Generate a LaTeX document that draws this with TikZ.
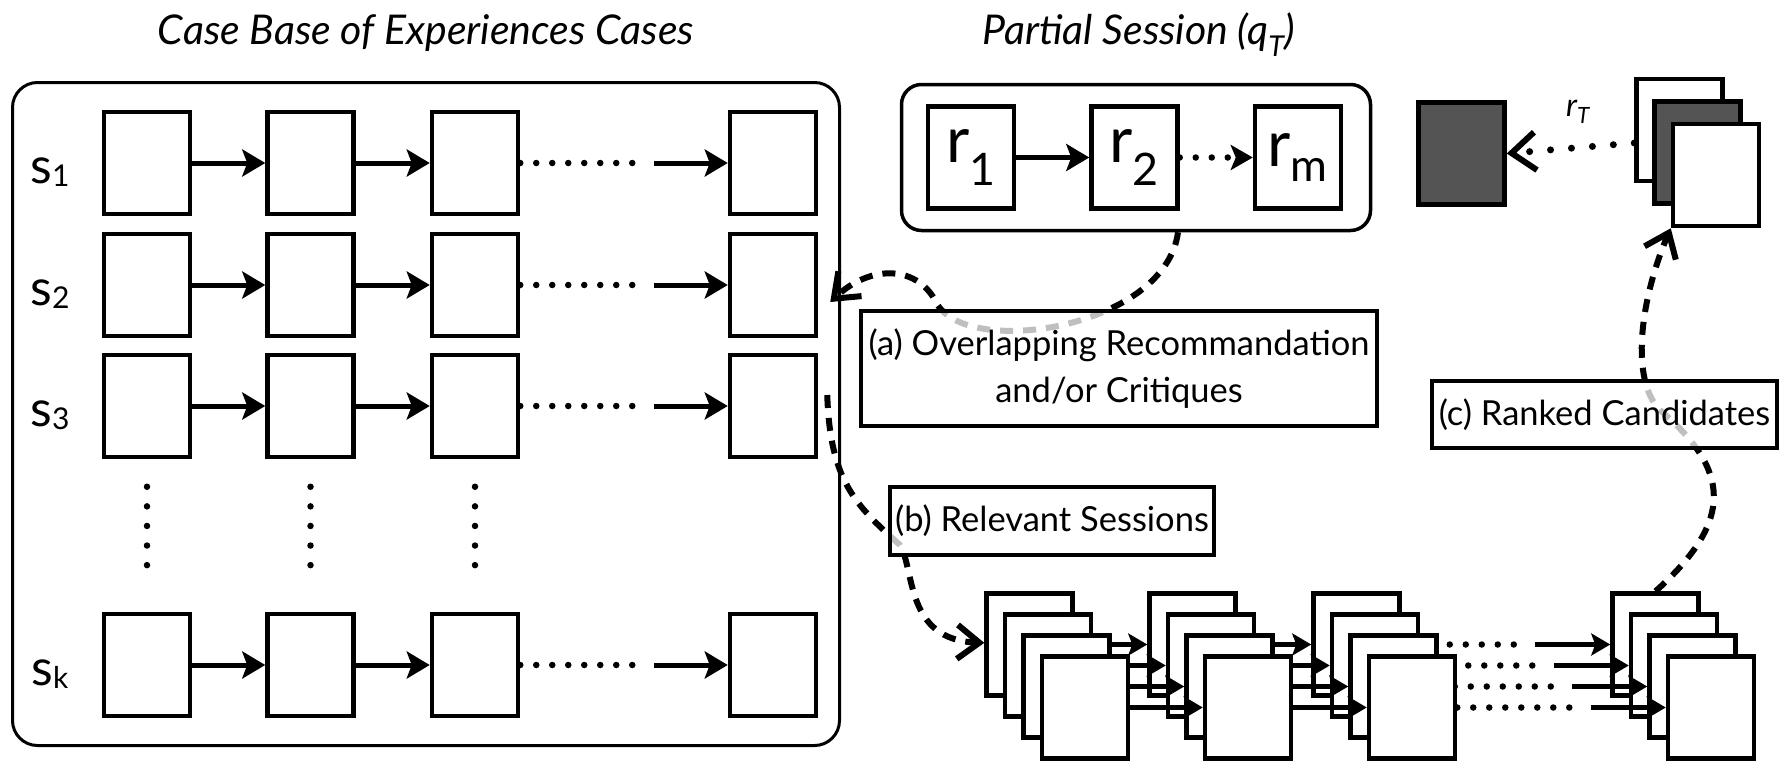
\documentclass[tikz,border=0pt]{standalone}
\usepackage{fontspec}
\setmainfont{Lato}
\usetikzlibrary{arrows.meta,calc}

\begin{document}
\begin{tikzpicture}[x=1pt,y=-1pt,
	cell/.style={draw,line width=4.5pt,fill=white,minimum width=86pt,minimum height=102pt,inner sep=0pt},
	rec/.style={cell,font=\fontsize{64}{64}\selectfont},
	lbl/.style={anchor=base,font=\fontsize{50}{50}\selectfont},
	sub/.style={font=\fontsize{30}{30}\selectfont},
	tag/.style={draw,line width=4pt,fill=white,fill opacity=.75,text opacity=1,inner sep=0pt,align=center,font=\fontsize{34.5}{47}\selectfont},
	arr/.style={line width=5pt,-{Stealth[length=23pt,width=27pt,inset=5pt]}},
	sarr/.style={line width=4.5pt,-{Stealth[length=19pt,width=22pt,inset=4pt]}},
	dotline/.style={line width=6.5pt,line cap=round,dash pattern=on 0pt off 16pt},
	vdotline/.style={line width=6.5pt,line cap=round,dash pattern=on 0pt off 19.6pt},
	conn/.style={line width=6pt,dash pattern=on 13pt off 10pt,-{Straight Barb[length=22pt,width=34pt]}}]
	\useasboundingbox (0,0) rectangle (1782,760);

	% titles
	\node[anchor=base,font=\fontsize{41}{41}\selectfont\itshape] (t1) at (426,45) {Case Base of Experiences Cases};
	\node[anchor=base,font=\fontsize{41}{41}\selectfont\itshape] (t2) at (1139,45) {Partial Session (q\textsubscript{T})};

	% case base
	\node[draw,line width=3pt,rounded corners=25pt,minimum width=827pt,minimum height=663pt] (cbase) at (426,414) {};
	\node[lbl] (l1) at (50,183) {s\raisebox{-3pt}{\fontsize{30}{30}\selectfont 1}};
	\node[lbl] (l2) at (50,305) {s\raisebox{-3pt}{\fontsize{30}{30}\selectfont 2}};
	\node[lbl] (l3) at (50,426) {s\raisebox{-3pt}{\fontsize{30}{30}\selectfont 3}};
	\node[lbl] (l4) at (50,685) {s\raisebox{-3pt}{\fontsize{30}{30}\selectfont k}};

	\node[cell] (c11) at (147,163) {};
	\node[cell] (c12) at (310.5,163) {};
	\node[cell] (c13) at (475,163) {};
	\node[cell] (c14) at (773,163) {};
	\node[cell] (c21) at (147,285) {};
	\node[cell] (c22) at (310.5,285) {};
	\node[cell] (c23) at (475,285) {};
	\node[cell] (c24) at (773,285) {};
	\node[cell] (c31) at (147,406) {};
	\node[cell] (c32) at (310.5,406) {};
	\node[cell] (c33) at (475,406) {};
	\node[cell] (c34) at (773,406) {};
	\node[cell] (c41) at (147,665) {};
	\node[cell] (c42) at (310.5,665) {};
	\node[cell] (c43) at (475,665) {};
	\node[cell] (c44) at (773,665) {};

	\draw[arr] (c11) -- (c12);
	\draw[arr] (c12) -- (c13);
	\draw[dotline] (c13.east) -- ++(120,0);
	\draw[arr] ($(c14.west)+(-74,0)$) -- (c14);
	\draw[arr] (c21) -- (c22);
	\draw[arr] (c22) -- (c23);
	\draw[dotline] (c23.east) -- ++(120,0);
	\draw[arr] ($(c24.west)+(-74,0)$) -- (c24);
	\draw[arr] (c31) -- (c32);
	\draw[arr] (c32) -- (c33);
	\draw[dotline] (c33.east) -- ++(120,0);
	\draw[arr] ($(c34.west)+(-74,0)$) -- (c34);
	\draw[arr] (c41) -- (c42);
	\draw[arr] (c42) -- (c43);
	\draw[dotline] (c43.east) -- ++(120,0);
	\draw[arr] ($(c44.west)+(-74,0)$) -- (c44);

	\draw[vdotline] ($(c31.south)+(0,27.5)$) -- ($(c41.north)+(0,-30)$);
	\draw[vdotline] ($(c32.south)+(0,27.5)$) -- ($(c42.north)+(0,-30)$);
	\draw[vdotline] ($(c33.south)+(0,27.5)$) -- ($(c43.north)+(0,-30)$);

	% partial session
	\node[draw,line width=3.5pt,rounded corners=20pt,minimum width=469pt,minimum height=146pt] (part) at (1136,157.5) {};
	\node[rec] (r1) at (971,157.5) {r\textsubscript{1}};
	\node[rec] (r2) at (1134.5,157.5) {r\textsubscript{2}};
	\node[rec] (rm) at (1298,157.5) {r\textsubscript{m}};
	\draw[arr] (r1) -- (r2);
	\draw[dotline,-{Stealth[length=22pt,width=25pt,inset=5pt]}] (r2) -- (rm);

	% target and candidates
	\node[cell,fill=black!67] (rt) at (1461.5,153.5) {};
	\node[cell] (k1) at (1679.5,130) {};
	\node[cell,fill=black!67] (k2) at (1697.5,152.5) {};
	\node[cell] (k3) at (1716,175) {};
	\draw[line width=7pt,line cap=round,dash pattern=on 0pt off 21pt,-{Straight Barb[length=24pt,width=38pt,line width=6pt]}] ($(k1.west)+(0,13)$) -- (rt.east);
	\node[font=\fontsize{32}{32}\selectfont\itshape] (rtl) at (1578,112) {r\textsubscript{T}};

	% relevant sessions
	\node[cell] (p10) at (1029.5,644.5) {};
	\node[cell] (p20) at (1192.5,644.5) {};
	\node[cell] (p30) at (1356.5,644.5) {};
	\node[cell] (p40) at (1655.5,644.5) {};
	\draw[sarr] (p10) -- (p20);
	\draw[sarr] (p20) -- (p30);
	\draw[dotline] (p30.east) -- ++(118,0);
	\draw[sarr] ($(p40.west)+(-75,0)$) -- (p40);

	\node[cell] (p11) at (1048,665.5) {};
	\node[cell] (p21) at (1211,665.5) {};
	\node[cell] (p31) at (1375,665.5) {};
	\node[cell] (p41) at (1674,665.5) {};
	\draw[sarr] (p11) -- (p21);
	\draw[sarr] (p21) -- (p31);
	\draw[dotline] (p31.east) -- ++(118,0);
	\draw[sarr] ($(p41.west)+(-75,0)$) -- (p41);

	\node[cell] (p12) at (1066.5,686.5) {};
	\node[cell] (p22) at (1229.5,686.5) {};
	\node[cell] (p32) at (1393.5,686.5) {};
	\node[cell] (p42) at (1692.5,686.5) {};
	\draw[sarr] (p12) -- (p22);
	\draw[sarr] (p22) -- (p32);
	\draw[dotline] (p32.east) -- ++(116,0);
	\draw[sarr] ($(p42.west)+(-75,0)$) -- (p42);

	\node[cell] (p13) at (1085,707.5) {};
	\node[cell] (p23) at (1248,707.5) {};
	\node[cell] (p33) at (1412,707.5) {};
	\node[cell] (p43) at (1711,707.5) {};
	\draw[sarr] (p13) -- (p23);
	\draw[sarr] (p23) -- (p33);
	\draw[dotline] (p33.east) -- ++(114,0);
	\draw[sarr] ($(p43.west)+(-75,0)$) -- (p43);

	% retrieval steps
	\coordinate (ain) at ($(c24.east)+(12,17)$);
	\draw[conn] ($(part.south)+(42,0)$) .. controls (1165,330) and (960,360) .. (935,300) .. controls (915,265) and (870,265) .. (ain);
	\draw[conn] ($(c34.east)+(9,-11)$) .. controls (830,480) and (855,505) .. (900,545) .. controls (915,570) and (905,640) .. (p10);
	\draw[conn] (p40.north) .. controls (1735,520) and (1730,470) .. (1660,410) .. controls (1630,380) and (1640,300) .. (k3.south west);

	\node[tag,minimum width=516pt,minimum height=115pt] (ta) at (1119,368.5) {(a) Overlapping Recommandation\\and/or Critiques};
	\node[tag,minimum width=324pt,minimum height=68pt] (tb) at (1052,521) {(b) Relevant Sessions};
	\node[tag,minimum width=345pt,minimum height=67pt] (tc) at (1604.5,414.5) {(c) Ranked Candidates};

\end{tikzpicture}
\end{document}
